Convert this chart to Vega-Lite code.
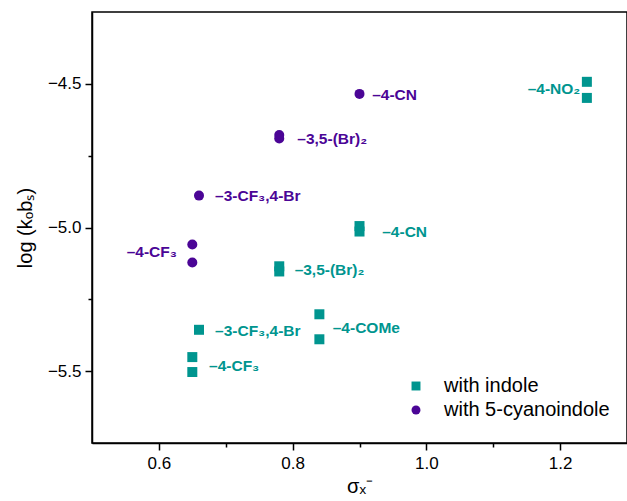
{
  "$schema": "https://vega.github.io/schema/vega-lite/v6.json",
  "width": 535,
  "height": 431,
  "autosize": {"type": "none"},
  "padding": {"left": 92, "top": 12, "right": 0, "bottom": 58},
  "background": "white",
  "config": {
    "view": {"stroke": "black", "strokeWidth": 1.5},
    "font": "Liberation Sans",
    "axis": {"domainColor": "black", "domainWidth": 1.5, "tickColor": "black", "tickWidth": 1.5, "labelColor": "black", "titleColor": "black", "grid": false, "labelFont": "Liberation Sans", "titleFont": "Liberation Sans", "titleFontWeight": "normal"},
    "legend": {"labelFont": "Liberation Sans", "labelFontSize": 20, "labelColor": "black", "labelLimit": 400}
  },
  "datasets": {
    "points": [
      {"sigma": 1.24, "logk": -4.493, "series": "with indole"},
      {"sigma": 1.24, "logk": -4.549, "series": "with indole"},
      {"sigma": 0.90, "logk": -4.995, "series": "with indole"},
      {"sigma": 0.90, "logk": -5.014, "series": "with indole"},
      {"sigma": 0.78, "logk": -5.135, "series": "with indole"},
      {"sigma": 0.78, "logk": -5.153, "series": "with indole"},
      {"sigma": 0.84, "logk": -5.302, "series": "with indole"},
      {"sigma": 0.84, "logk": -5.389, "series": "with indole"},
      {"sigma": 0.66, "logk": -5.356, "series": "with indole"},
      {"sigma": 0.65, "logk": -5.451, "series": "with indole"},
      {"sigma": 0.65, "logk": -5.503, "series": "with indole"},
      {"sigma": 0.90, "logk": -4.535, "series": "with 5-cyanoindole"},
      {"sigma": 0.78, "logk": -4.678, "series": "with 5-cyanoindole"},
      {"sigma": 0.78, "logk": -4.69, "series": "with 5-cyanoindole"},
      {"sigma": 0.66, "logk": -4.889, "series": "with 5-cyanoindole"},
      {"sigma": 0.65, "logk": -5.059, "series": "with 5-cyanoindole"},
      {"sigma": 0.65, "logk": -5.122, "series": "with 5-cyanoindole"}
    ],
    "labelsRight": [
      {"sigma": 0.919, "logk": -4.54, "label": "–4-CN", "series": "with 5-cyanoindole"},
      {"sigma": 0.807, "logk": -4.691, "label": "–3,5-(Br)₂", "series": "with 5-cyanoindole"},
      {"sigma": 0.684, "logk": -4.889, "label": "–3-CF₃,4-Br", "series": "with 5-cyanoindole"},
      {"sigma": 0.934, "logk": -5.014, "label": "–4-CN", "series": "with indole"},
      {"sigma": 0.803, "logk": -5.149, "label": "–3,5-(Br)₂", "series": "with indole"},
      {"sigma": 0.860, "logk": -5.35, "label": "–4-COMe", "series": "with indole"},
      {"sigma": 0.684, "logk": -5.361, "label": "–3-CF₃,4-Br", "series": "with indole"},
      {"sigma": 0.675, "logk": -5.483, "label": "–4-CF₃", "series": "with indole"}
    ],
    "labelsLeft": [
      {"sigma": 0.627, "logk": -5.087, "label": "–4-CF₃", "series": "with 5-cyanoindole"},
      {"sigma": 1.23, "logk": -4.517, "label": "–4-NO₂", "series": "with indole"}
    ]
  },
  "encoding": {
    "x": {
      "field": "sigma", "type": "quantitative",
      "scale": {"domain": [0.5, 1.3], "nice": false, "zero": false},
      "axis": {
        "title": "σₓ⁻", "titleFontSize": 20, "titlePadding": 5,
        "values": [0.6, 0.7, 0.8, 0.9, 1.0, 1.1, 1.2],
        "labelExpr": "(round(datum.value*10) % 2 == 0) ? format(datum.value, '.1f') : ''",
        "tickSize": {"condition": {"test": "round(datum.value*10) % 2 == 0", "value": 7}, "value": 4},
        "labelFontSize": 17, "labelPadding": 5
      }
    },
    "y": {
      "field": "logk", "type": "quantitative",
      "scale": {"domain": [-5.75, -4.25], "nice": false, "zero": false},
      "axis": {
        "title": "log (kₒbₛ)", "titleFontSize": 20, "titlePadding": 12,
        "values": [-5.5, -5.25, -5.0, -4.75, -4.5],
        "labelExpr": "(round(datum.value*4) % 2 == 0) ? format(datum.value, '.1f') : ''",
        "tickSize": {"condition": {"test": "round(datum.value*4) % 2 == 0", "value": 7}, "value": 4},
        "labelFontSize": 17, "labelPadding": 4
      }
    },
    "color": {
      "field": "series", "type": "nominal",
      "scale": {"domain": ["with indole", "with 5-cyanoindole"], "range": ["#00958F", "#4B0596"]},
      "legend": {"title": null, "orient": "none", "legendX": 314, "legendY": 364, "padding": 0, "symbolSize": 80, "rowPadding": 4, "labelOffset": 18, "symbolOpacity": 1, "labelLimit": 400}
    }
  },
  "layer": [
    {
      "data": {"name": "points"},
      "mark": {"type": "point", "filled": true, "opacity": 1},
      "encoding": {
        "shape": {"field": "series", "type": "nominal", "scale": {"domain": ["with indole", "with 5-cyanoindole"], "range": ["square", "circle"]}, "legend": {"title": null, "orient": "none", "legendX": 314, "legendY": 364, "padding": 0, "symbolSize": 80, "rowPadding": 4, "labelOffset": 18, "labelLimit": 400}},
        "size": {"value": 100}
      }
    },
    {
      "data": {"name": "labelsRight"},
      "mark": {"type": "text", "align": "left", "baseline": "middle", "fontWeight": "bold", "fontSize": 15.5},
      "encoding": {"text": {"field": "label"}}
    },
    {
      "data": {"name": "labelsLeft"},
      "mark": {"type": "text", "align": "right", "baseline": "middle", "fontWeight": "bold", "fontSize": 15.5},
      "encoding": {"text": {"field": "label"}}
    }
  ]
}
